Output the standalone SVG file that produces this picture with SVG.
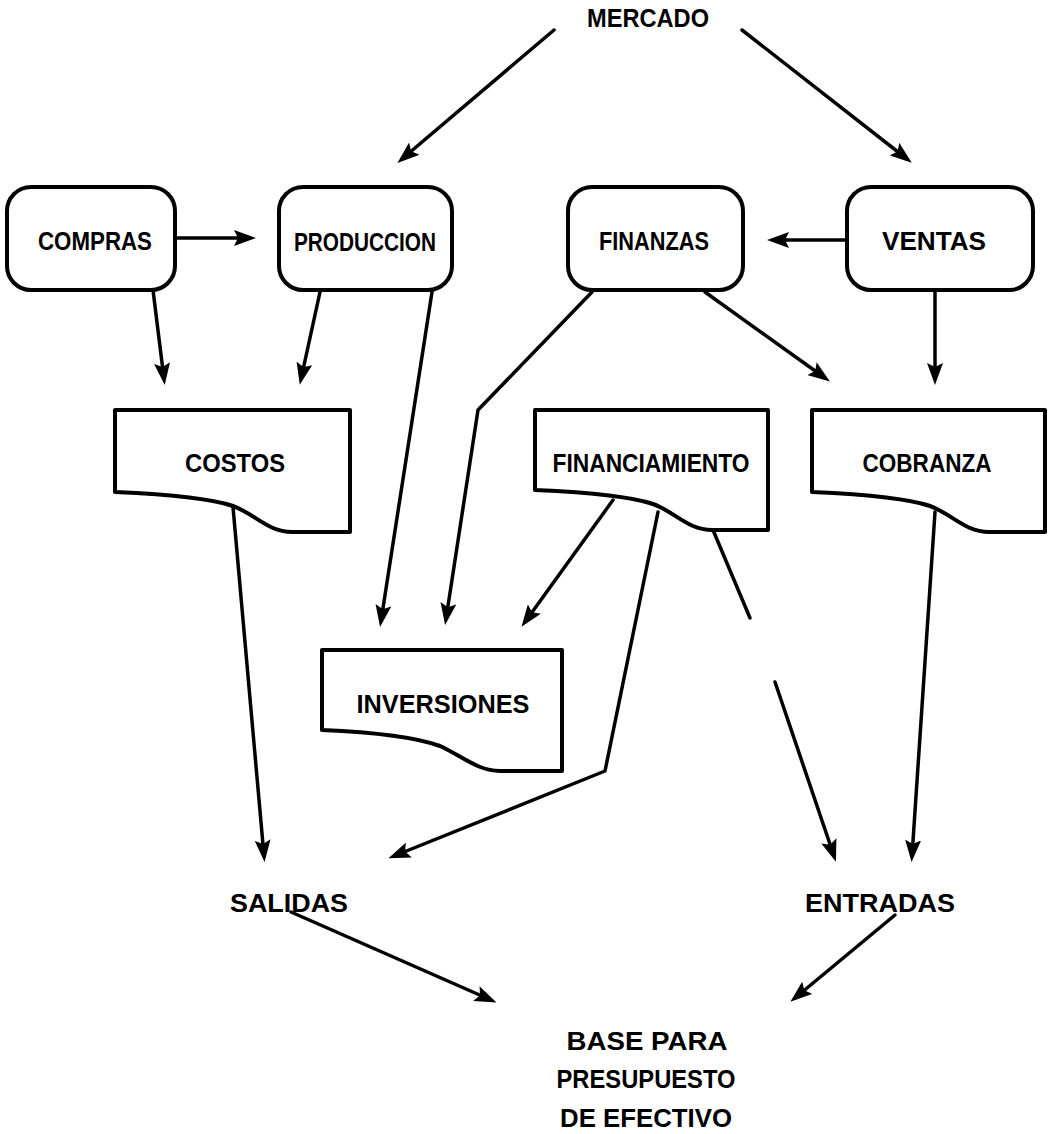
<svg xmlns="http://www.w3.org/2000/svg" width="1056" height="1134" viewBox="0 0 1056 1134">
<style>
.bg{fill:#ffffff}
.box{fill:#ffffff;stroke:#000;stroke-width:4;stroke-linejoin:round}
.lbl{font-family:"Liberation Sans",Arial,sans-serif;font-weight:bold;font-size:25px;fill:#000;text-anchor:middle}
.edge{fill:none;stroke:#000;stroke-width:3.5;stroke-linejoin:round;stroke-linecap:round}
.arr{marker-end:url(#ah)}
</style>
<defs>
<marker id="ah" markerUnits="userSpaceOnUse" viewBox="0 0 22 16" markerWidth="22" markerHeight="16" refX="16" refY="8" orient="auto">
<path d="M0,0 L22,8 L0,16 L4,8 Z" fill="#000"/>
</marker>
</defs>
<rect class="bg" x="0" y="0" width="1056" height="1134"/>

<g id="mercado"><text class="lbl" x="648" y="27" textLength="122" lengthAdjust="spacingAndGlyphs">MERCADO</text></g>

<g id="compras"><rect class="box" x="7" y="187" width="168" height="103" rx="24"/><text class="lbl" x="95" y="250" textLength="114" lengthAdjust="spacingAndGlyphs">COMPRAS</text></g>
<g id="produccion"><rect class="box" x="279" y="187" width="173" height="103" rx="24"/><text class="lbl" x="365" y="251" textLength="142" lengthAdjust="spacingAndGlyphs">PRODUCCION</text></g>
<g id="finanzas"><rect class="box" x="568" y="187" width="175" height="103" rx="24"/><text class="lbl" x="654" y="250" textLength="110" lengthAdjust="spacingAndGlyphs">FINANZAS</text></g>
<g id="ventas"><rect class="box" x="847" y="187" width="186" height="103" rx="24"/><text class="lbl" x="934" y="250" textLength="104" lengthAdjust="spacingAndGlyphs">VENTAS</text></g>

<g id="costos"><path class="box" d="M115,410 H350 V532 H292 C268,532 255,514 233,506 C210,498 160,494 115,492 Z"/><text class="lbl" x="235" y="472" textLength="100" lengthAdjust="spacingAndGlyphs">COSTOS</text></g>
<g id="financiamiento"><path class="box" d="M535,410 H768 V530 H712 C688,530 675,512 653,504 C630,496 580,492 535,490 Z"/><text class="lbl" x="651" y="472" textLength="197" lengthAdjust="spacingAndGlyphs">FINANCIAMIENTO</text></g>
<g id="cobranza"><path class="box" d="M812,410 H1045 V532 H989 C965,532 952,514 930,506 C907,498 857,494 812,492 Z"/><text class="lbl" x="927" y="472" textLength="129" lengthAdjust="spacingAndGlyphs">COBRANZA</text></g>
<g id="inversiones"><path class="box" d="M322,650 H562 V771 H500 C478,771 462,756 440,746 C415,737 370,732 322,730 Z"/><text class="lbl" x="443" y="713" textLength="173" lengthAdjust="spacingAndGlyphs">INVERSIONES</text></g>

<g id="salidas"><text class="lbl" x="289" y="912" textLength="118" lengthAdjust="spacingAndGlyphs">SALIDAS</text></g>
<g id="entradas"><text class="lbl" x="880" y="912" textLength="150" lengthAdjust="spacingAndGlyphs">ENTRADAS</text></g>
<g id="base"><text class="lbl" x="647" y="1050" textLength="161" lengthAdjust="spacingAndGlyphs">BASE PARA</text><text class="lbl" x="646" y="1088" textLength="179" lengthAdjust="spacingAndGlyphs">PRESUPUESTO</text><text class="lbl" x="646" y="1127" textLength="172" lengthAdjust="spacingAndGlyphs">DE EFECTIVO</text></g>

<g id="connectors">
<path class="edge arr" d="M554,30 L402,159"/>
<path class="edge arr" d="M742,30 L907,159"/>
<path class="edge arr" d="M177,238 L250,238"/>
<path class="edge arr" d="M847,240 L773,240"/>
<path class="edge arr" d="M153,290 L164,379"/>
<path class="edge arr" d="M320,292 L301,379"/>
<path class="edge arr" d="M432,292 L381,621"/>
<path class="edge arr" d="M592,292 L478,410 L446,619"/>
<path class="edge arr" d="M705,292 L825,378"/>
<path class="edge arr" d="M935,292 L935,379"/>
<path class="edge arr" d="M613,500 L525,622"/>
<path class="edge arr" d="M658,512 L605,771 L394,856"/>
<path class="edge" d="M713,530 L750,618"/>
<path class="edge arr" d="M775,682 L834,856"/>
<path class="edge arr" d="M233,507 L264,856"/>
<path class="edge arr" d="M935,512 L912,856"/>
<path class="edge arr" d="M291,912 L491,1000"/>
<path class="edge arr" d="M895,915 L795,998"/>
</g>
</svg>
